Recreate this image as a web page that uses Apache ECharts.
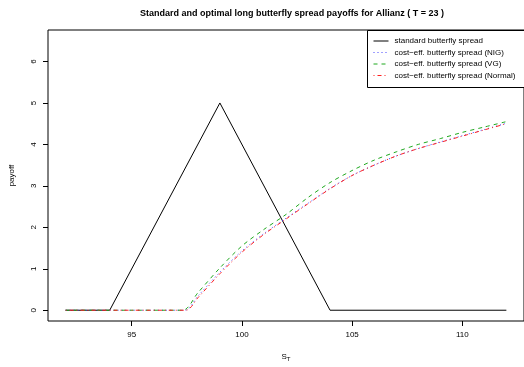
<!DOCTYPE html>
<html>
<head>
<meta charset="utf-8">
<script src="https://cdn.jsdelivr.net/npm/echarts@6/dist/echarts.min.js"></script>
<style>html,body{margin:0;padding:0;background:#fff}#c{width:524px;height:367px}</style>
</head>
<body>
<div id="c"></div>
<script>
// Data
var xTicks = [95, 100, 105, 110];
var yTicks = [0, 1, 2, 3, 4, 5, 6];

var stdX = [92, 94, 99, 104, 112];
var stdY = [0, 0, 5, 0, 0];

var nigX = [92, 97.4, 98, 99, 100, 101, 102, 103, 104, 105, 106, 107, 108, 109, 110, 111, 112];
var nigY = [0, 0, 0.34, 0.92, 1.43, 1.85, 2.22, 2.58, 2.94, 3.25, 3.5, 3.72, 3.9, 4.06, 4.21, 4.36, 4.51];

var vgX = [92, 97.3, 98, 99, 100, 101, 102, 103, 104, 105, 106, 107, 108, 109, 110, 111, 112];
var vgY = [0, 0, 0.42, 1.02, 1.55, 1.95, 2.31, 2.72, 3.08, 3.37, 3.62, 3.82, 4.0, 4.14, 4.29, 4.42, 4.55];

var normX = [92, 97.45, 98, 99, 100, 101, 102, 103, 104, 105, 106, 107, 108, 109, 110, 111, 112];
var normY = [0, 0, 0.3, 0.88, 1.4, 1.83, 2.2, 2.57, 2.93, 3.25, 3.5, 3.72, 3.9, 4.05, 4.2, 4.35, 4.5];

var names = ['standard butterfly spread', 'cost\u2212eff. butterfly spread (NIG)', 'cost\u2212eff. butterfly spread (VG)', 'cost\u2212eff. butterfly spread (Normal)'];

function pairs(xs, ys) { return xs.map(function (x, i) { return [x, ys[i]]; }); }

var FONT = 'Liberation Sans, Arial, Helvetica, sans-serif';
var chart = echarts.init(document.getElementById('c'), null, { renderer: 'canvas' });
chart.setOption({
  animation: false,
  backgroundColor: '#fff',
  title: {
    text: 'Standard and optimal long butterfly spread payoffs for Allianz ( T = 23 )',
    left: 287, top: 4, textAlign: 'center',
    textStyle: { fontFamily: FONT, fontSize: 9, fontWeight: 'bold', color: '#000' }
  },
  grid: { left: 47, top: 30, width: 480, height: 295, show: true, borderColor: '#000', borderWidth: 1, backgroundColor: 'transparent' },
  graphic: [{
    type: 'rect', left: 367, top: 30, z: 5,
    shape: { width: 170, height: 57 },
    style: { fill: '#fff', stroke: '#000', lineWidth: 1 }
  }],
  legend: {
    orient: 'vertical', left: 367, top: 30, z: 10,
    padding: [7, 10, 7, 6], itemGap: 3.5, itemWidth: 15, itemHeight: 8,
    borderWidth: 0, backgroundColor: 'transparent',
    itemStyle: { opacity: 0 },
    lineStyle: { width: 1 },
    textStyle: { fontFamily: FONT, fontSize: 8, color: '#000', padding: [0, 0, 0, 1] },
    data: names
  },
  xAxis: {
    type: 'value', min: 91.2, max: 112.8,
    splitLine: { show: false },
    axisLine: { show: false, onZero: false },
    axisTick: { show: true, length: 5, customValues: xTicks, lineStyle: { color: '#000' } },
    axisLabel: { customValues: xTicks, fontFamily: FONT, fontSize: 8, color: '#000', margin: 10 },
    name: '{a|S}{b|T}', nameLocation: 'middle', nameGap: 31,
    nameTextStyle: { rich: { a: { fontFamily: FONT, fontSize: 8, color: '#000' }, b: { fontFamily: FONT, fontSize: 6, color: '#000', verticalAlign: 'bottom', padding: [4, 0, 0, 0] } } }
  },
  yAxis: {
    type: 'value', min: -0.26, max: 6.76,
    splitLine: { show: false },
    axisLine: { show: false, onZero: false },
    axisTick: { show: true, length: 5, customValues: yTicks, lineStyle: { color: '#000' } },
    axisLabel: { customValues: yTicks, rotate: 90, fontFamily: FONT, fontSize: 8, color: '#000', margin: 10 },
    name: 'payoff', nameLocation: 'middle', nameGap: 32,
    nameTextStyle: { fontFamily: FONT, fontSize: 8, color: '#000' }
  },
  series: [
    { name: names[0], type: 'line', data: pairs(stdX, stdY), symbol: 'none', color: '#000', lineStyle: { color: '#000', width: 1 } },
    { name: names[1], type: 'line', data: pairs(nigX, nigY), symbol: 'none', smooth: 0.3, color: '#4040ff', lineStyle: { color: '#4040ff', width: 1, type: [1, 3] } },
    { name: names[2], type: 'line', data: pairs(vgX, vgY), symbol: 'none', smooth: 0.3, color: '#1fa81f', lineStyle: { color: '#1fa81f', width: 1, type: [4, 4] } },
    { name: names[3], type: 'line', data: pairs(normX, normY), symbol: 'none', smooth: 0.3, color: '#ff2020', lineStyle: { color: '#ff2020', width: 1, type: [1, 3, 4, 3] } }
  ]
});
</script>
</body>
</html>
